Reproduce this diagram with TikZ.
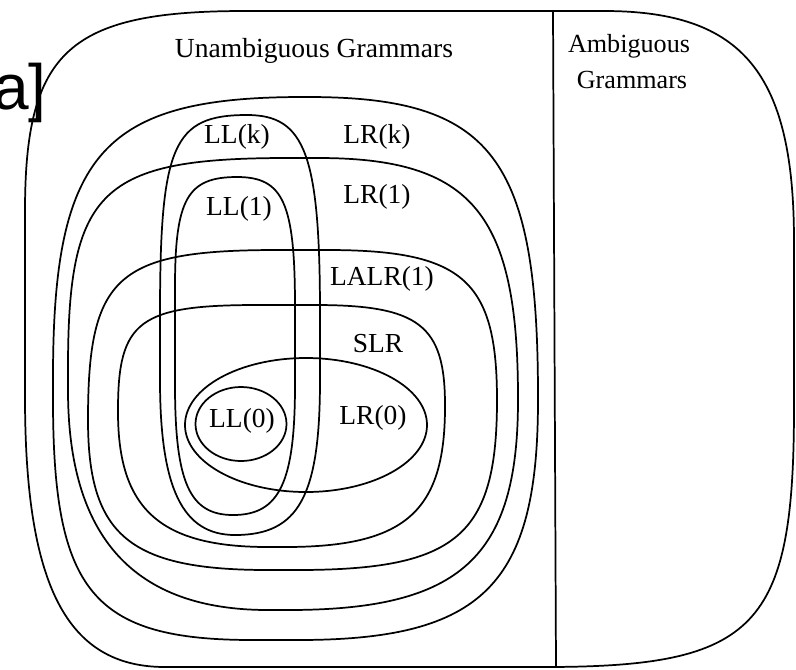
\documentclass[tikz,border=0pt]{standalone}
\usepackage{fontspec}
\setmainfont{Liberation Serif}
\newfontfamily\sansf{Liberation Sans}
\pgfkeys{/blob/.cd,
  L/.store in=\bL, T/.store in=\bT, R/.store in=\bR, B/.store in=\bB,
  tl/.code args={#1/#2/#3}{\def\tlX{#1}\def\tlY{#2}\def\tlC{#3}},
  tr/.code args={#1/#2/#3}{\def\trX{#1}\def\trY{#2}\def\trC{#3}},
  br/.code args={#1/#2/#3}{\def\brX{#1}\def\brY{#2}\def\brC{#3}},
  bl/.code args={#1/#2/#3}{\def\blX{#1}\def\blY{#2}\def\blC{#3}},
}
\newcommand\blob[2]{\pgfkeys{/blob/.cd,#2}%
 \draw[#1] (\bL,\bT+\tlY) .. controls (\bL,\bT+\tlY*\tlC) and (\bL+\tlX*\tlC,\bT) .. (\bL+\tlX,\bT)
 -- (\bR-\trX,\bT) .. controls (\bR-\trX*\trC,\bT) and (\bR,\bT+\trY*\trC) .. (\bR,\bT+\trY)
 -- (\bR,\bB-\brY) .. controls (\bR,\bB-\brY*\brC) and (\bR-\brX*\brC,\bB) .. (\bR-\brX,\bB)
 -- (\bL+\blX,\bB) .. controls (\bL+\blX*\blC,\bB) and (\bL,\bB-\blY*\blC) .. (\bL,\bB-\blY)
 -- cycle;}
\begin{document}
\begin{tikzpicture}[x=0.75pt,y=-0.75pt,
  outline/.style={draw=black,line width=1.3pt},
  lbl/.style={anchor=base,inner sep=0pt,font=\fontsize{20.6pt}{24pt}\selectfont},
  hdr/.style={anchor=base,inner sep=0pt,font=\fontsize{19.6pt}{24pt}\selectfont}]
\path[use as bounding box] (0,0) rectangle (796,669);

% outer region
\blob{outline}{L=25,T=11,R=794,B=667,tl=220/200/0.2,tr=190/230/0.27,br=250/260/0.15,bl=140/270/0.3}
\coordinate (divtop) at (553,11);
\coordinate (divbot) at (556,667);
\draw[outline] (divtop) -- (divbot);

% LR(k)
\blob{outline}{L=53,T=97,R=538,B=640,tl=250/280/0.2,tr=230/300/0.2,br=240/240/0.23,bl=200/240/0.2}
% LR(1)
\blob{outline}{L=68,T=158,R=518,B=610,tl=220/210/0.15,tr=200/240/0.23,br=230/210/0.25,bl=200/220/0.33}
% LALR(1)
\blob{outline}{L=88,T=250,R=497,B=570,tl=190/170/0.15,tr=170/150/0.2,br=200/170/0.2,bl=180/150/0.23}
% SLR
\blob{outline}{L=118,T=305,R=445,B=547,tl=140/105/0.15,tr=130/100/0.2,br=160/140/0.25,bl=150/135/0.28}
% LL(k)
\blob{outline}{L=160,T=115,R=320,B=535,tl=87/200/0.15,tr=73/200/0.2,br=85/155/0.25,bl=75/155/0.3}
% LL(1)
\blob{outline}{L=175,T=177,R=295,B=515,tl=62/110/0.2,tr=58/130/0.2,br=62/130/0.25,bl=58/130/0.25}
% LR(0)
\draw[outline] (306,425) ellipse [x radius=121, y radius=67];
% LL(0)
\draw[outline] (241,424) ellipse [x radius=45.5, y radius=37];

% labels
\node[anchor=base east,inner sep=0pt,font=\sansf\fontsize{48pt}{56pt}\selectfont] (frag) at (47,109) {a]};
\node[hdr,font=\fontsize{20.7pt}{24pt}\selectfont] (unamb) at (314,57) {Unambiguous Grammars};
\node[hdr] (amb1) at (629,52) {Ambiguous};
\node[hdr] (amb2) at (632,88) {Grammars};
\node[lbl] (llk) at (237,143) {LL(k)};
\node[lbl] (lrk) at (377,143) {LR(k)};
\node[lbl] (ll1) at (239,215) {LL(1)};
\node[lbl] (lr1) at (377,203) {LR(1)};
\node[lbl] (lalr) at (382,285) {LALR(1)};
\node[lbl] (slr) at (378,352) {SLR};
\node[lbl] (lr0) at (373,424) {LR(0)};
\node[lbl] (ll0) at (242,427) {LL(0)};
\end{tikzpicture}
\end{document}
